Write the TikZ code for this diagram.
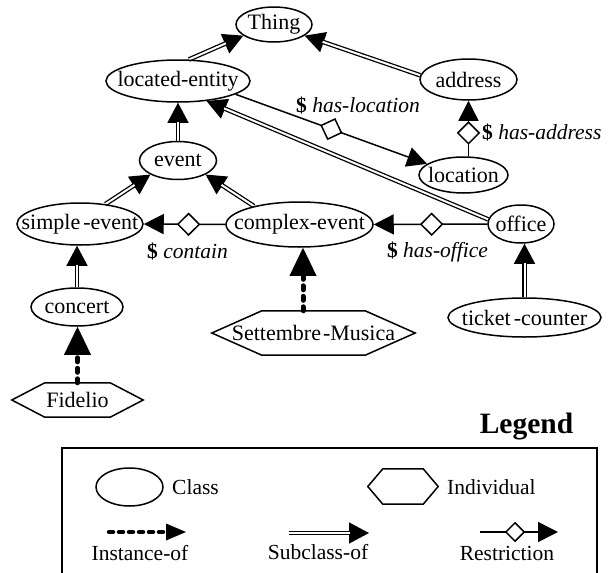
\documentclass[tikz,border=0pt]{standalone}
\usepackage{fontspec}
\setmainfont{Liberation Serif}
\usetikzlibrary{arrows.meta,shapes.geometric,backgrounds}

% double-lined subclass connector: thin line with tip, then a shortened double line on top
\newcommand\subclassedge[3][]{%
  \draw[subtip,#1] #2 -- #3;
  \draw[subdbl,#1] #2 -- #3;}
% flat hexagon drawn round a rectangular node
\newcommand\hexoutline[2]{%
  \draw[line width=1.5pt,line join=miter] (#1.west) -- ([xshift=#2]#1.north west) -- ([xshift=-#2]#1.north east)
    -- (#1.east) -- ([xshift=-#2]#1.south east) -- ([xshift=#2]#1.south west) -- cycle;}

\begin{document}
\begin{tikzpicture}[x=1pt,y=-1pt,
  font=\fontsize{22}{26}\selectfont,
  zerowidth/.style={inner sep=0pt,
    execute at begin node={\hbox to 0pt\bgroup\hss},
    execute at end node={\hss\egroup}},
  cls/.style={ellipse, draw, line width=1.5pt, zerowidth},
  ind/.style={rectangle, zerowidth},
  lbl/.style={font=\fontsize{21.5}{24}\selectfont, inner sep=0pt},
  subtip/.style={line width=1.3pt, -{Triangle[length=20pt,width=21pt]}},
  subdbl/.style={line width=1.3pt, double=white, double distance=2pt, shorten >=19pt},
  inst/.style={line width=5pt, line cap=round, dash pattern=on 4pt off 6.5pt,
    -{Triangle[length=28pt,width=27pt,line width=0pt]}},
  restr/.style={line width=1.5pt, -{Triangle[length=20pt,width=20pt]}},
  diam/.style={diamond, draw, fill=white, line width=1.5pt, inner sep=0pt,
    minimum width=22pt, minimum height=22pt, sloped},
]
\useasboundingbox (0,0) rectangle (611,573);

% ---- classes ----
\node[cls, minimum width=76, minimum height=35] (thing) at (274,24.5) {Thing};
\node[cls, minimum width=144, minimum height=42] (le) at (178,81) {located-entity};
\node[cls, minimum width=97, minimum height=41] (addr) at (468.5,79.5) {address};
\node[cls, minimum width=89, minimum height=36] (loc) at (463.5,175) {location};
\node[cls, minimum width=77, minimum height=38] (ev) at (178,160.5) {event};
\node[cls, minimum width=126, minimum height=42] (se) at (80,224) {simple\kern3pt-event};
\node[cls, minimum width=147, minimum height=45] (ce) at (299.5,224.5) {complex-event};
\node[cls, minimum width=66, minimum height=38] (off) at (521,224) {office};
\node[cls, minimum width=92, minimum height=38] (con) at (77,307) {concert};
\node[cls, minimum width=153, minimum height=39] (tc) at (524.5,317.5) {ticket\kern3pt-counter};

% ---- individuals ----
\node[ind, minimum width=203, minimum height=44] (sm) at (313.5,333) {Settembre\kern2pt-Musica};
\hexoutline{sm}{50}
\node[ind, minimum width=131, minimum height=34] (fid) at (77.5,400) {Fidelio};
\hexoutline{fid}{33}

% ---- restriction labels ----
\node[lbl] (lhasloc) at (358,106) {\textbf{\$} \textit{has-location}};
\node[lbl, anchor=west] (lhasaddr) at (482,133) {\textbf{\$} \textit{has-address}};
\node[lbl] (lcontain) at (187.5,252) {\textbf{\$} \textit{contain}};
\node[lbl] (lhasoff) at (437.5,252) {\textbf{\$} \textit{has-office}};

% ---- legend ----
\node[font=\fontsize{29.5}{32}\selectfont\bfseries] (legtitle) at (526.5,427) {Legend};
\node[cls, minimum width=67, minimum height=38] (legcls) at (129.5,487) {};
\node[lbl, anchor=west] (legclstxt) at (172,487) {Class};
\node[ind, minimum width=70, minimum height=35] (legind) at (403,486.5) {};
\hexoutline{legind}{15}
\node[lbl, anchor=west] (legindtxt) at (447,487) {Individual};
\coordinate (ia) at (109,532);
\coordinate (ib) at (186,532);
\coordinate (sa) at (289,533);
\coordinate (sb) at (369,533);
\coordinate (ra) at (480,532);
\coordinate (rb) at (558,532);
\node[lbl] (leginst) at (140,553) {Instance-of};
\node[lbl] (legsub) at (318,552) {Subclass-of};
\node[lbl] (legres) at (507,553) {Restriction};

\begin{pgfonlayer}{background}
  % subclass links
  \subclassedge{(le.63)}{(thing.200)}
  \subclassedge{(addr.175)}{(thing.340)}
  \subclassedge{(ev.north)}{(le.south)}
  \subclassedge{(se.38)}{(ev.207)}
  \subclassedge{(ce.158)}{(ev.333)}
  \subclassedge{(off.172)}{(le.325)}
  \subclassedge{(con.north)}{(con.north |- se.south)}
  \subclassedge{(tc.north)}{(tc.north |- off.south)}
  % instance links
  \draw[inst] (fid.north) -- (fid.north |- con.south);
  \draw[inst] ([xshift=3.5]ce.south |- sm.north) -- ([xshift=3.5]ce.south);
  % restrictions
  \draw[restr] (le.347) -- node[diam, pos=0.5] (dloc) {} (loc.163);
  \draw[restr] (addr.south |- loc.north) -- node[diam, pos=0.42] (daddr) {} (addr.south);
  \draw[restr] (ce.west) -- node[diam, pos=0.45] (dcon) {} (se.east);
  \draw[restr] (off.west) -- node[diam, pos=0.49] (doff) {} (ce.east);
  % legend frame and samples
  \draw[line width=1.8pt] (62,573) -- (62,448) -- (597,448) -- (597,573);
  \draw[inst, line width=4.5pt, dash pattern=on 4pt off 6pt,
    -{Triangle[length=20pt,width=17pt,line width=0pt]}] (ia) -- (ib);
  \subclassedge{(sa)}{(sb)}
  \draw[restr] (ra) -- node[diam, pos=0.45, minimum width=19pt, minimum height=19pt] (dleg) {} (rb);
\end{pgfonlayer}
\end{tikzpicture}
\end{document}
